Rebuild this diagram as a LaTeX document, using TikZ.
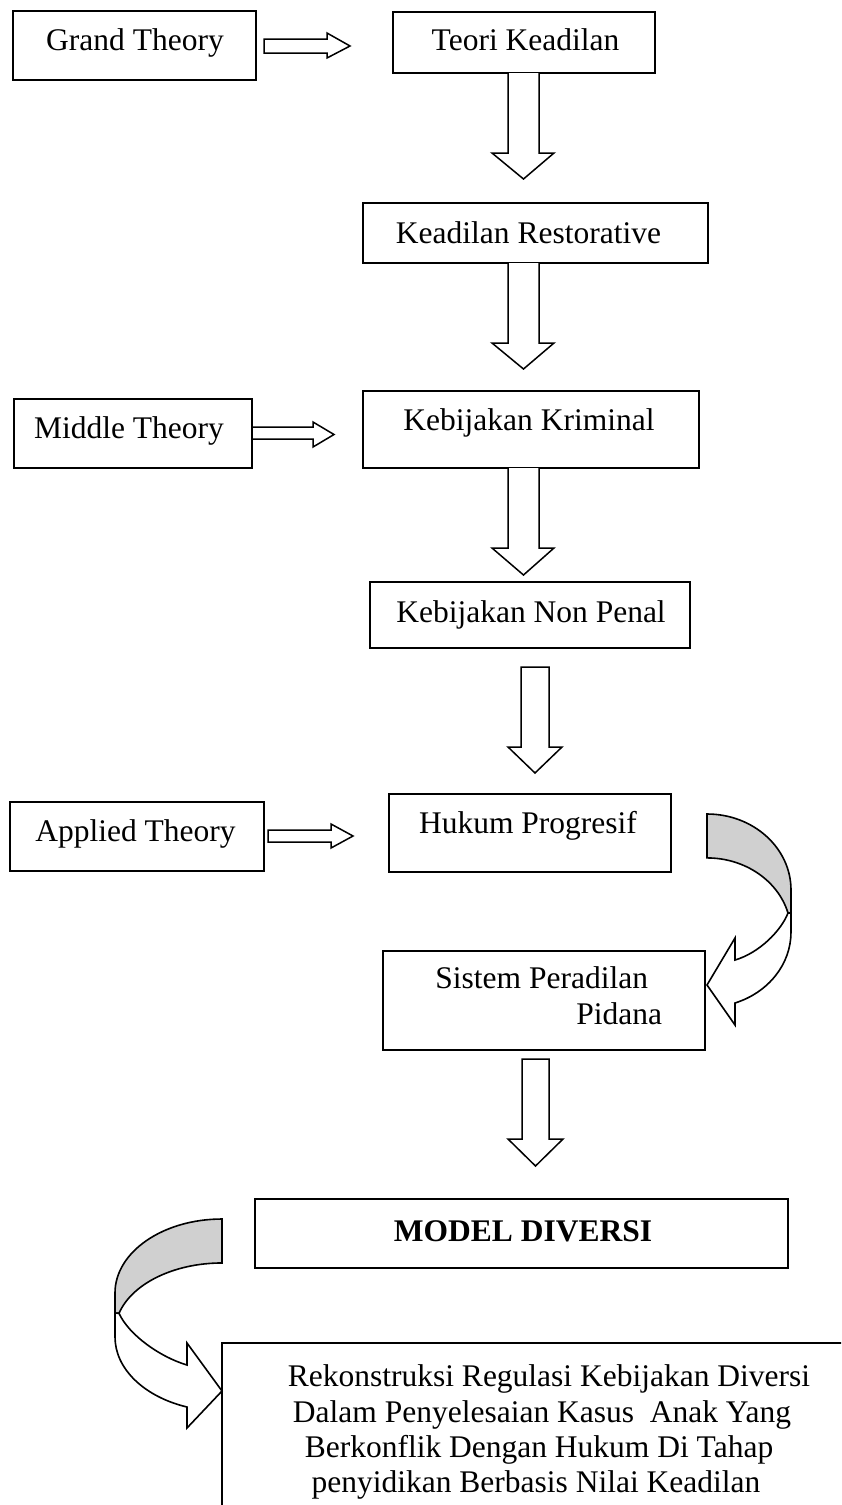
\documentclass[tikz,border=0pt]{standalone}
\usepackage{fontspec}
\setmainfont{Liberation Serif}
\definecolor{shade}{RGB}{208,208,208}
\begin{document}
\begin{tikzpicture}[x=0.5pt,y=-0.5pt,
  box/.style={draw, line width=1pt, inner sep=0pt, rectangle},
  txt/.style={font=\fontsize{15.75}{18}\selectfont, inner sep=0pt},
  blk/.style={draw, line width=0.75pt, fill=white, line join=miter},
  cgray/.style={draw, line width=0.8pt, fill=shade, line join=miter},
  cwhite/.style={draw, line width=0.8pt, fill=white, line join=miter}]
\useasboundingbox (0,0) rectangle (841,1505);
\clip (0,0) rectangle (841,1505);
\fill[white] (0,0) rectangle (841,1505);

% boxes
\node[box, minimum width=121.5pt, minimum height=34.5pt] (gt) at (134.5,45.5) {};
\node[box, minimum width=131pt, minimum height=30.5pt] (tk) at (524,42.5) {};
\node[box, minimum width=172.5pt, minimum height=30pt] (kr) at (535.5,233) {};
\node[box, minimum width=119pt, minimum height=34.5pt] (mt) at (133,433.5) {};
\node[box, minimum width=168pt, minimum height=38.5pt] (kk) at (531,429.5) {};
\node[box, minimum width=160pt, minimum height=33pt] (knp) at (530,615) {};
\node[box, minimum width=127pt, minimum height=34.5pt] (at) at (137,836.5) {};
\node[box, minimum width=141pt, minimum height=39pt] (hp) at (530,833) {};
\node[box, minimum width=161pt, minimum height=49.5pt] (spp) at (544,1000.5) {};
\node[box, minimum width=266.5pt, minimum height=34.5pt] (md) at (521.5,1233.5) {};
\node[box, minimum width=339pt, minimum height=108.5pt] (rk) at (561,1451.5) {};

% texts
\node[txt, anchor=base] (gtt) at (135,50) {Grand Theory};
\node[txt, anchor=base] (tkt) at (525.5,50) {Teori Keadilan};
\node[txt, anchor=base] (krt) at (528.5,243) {Keadilan Restorative};
\node[txt, anchor=base] (mtt) at (129,438) {Middle Theory};
\node[txt, anchor=base] (kkt) at (529,430) {Kebijakan Kriminal};
\node[txt, anchor=base] (knpt) at (531,622) {Kebijakan Non Penal};
\node[txt, anchor=base] (att) at (135.5,841) {Applied Theory};
\node[txt, anchor=base] (hpt) at (528,833) {Hukum Progresif};
\node[txt, anchor=base west] (sppa) at (435,988) {Sistem Peradilan};
\node[txt, anchor=base west] (sppb) at (576,1024) {Pidana};
\node[txt, anchor=base, font=\fontsize{15.75}{18}\selectfont\bfseries] (mdt) at (523,1241) {MODEL DIVERSI};
\node[txt, anchor=base] (rk1) at (549,1386) {Rekonstruksi Regulasi Kebijakan Diversi};
\node[txt, anchor=base] (rk2) at (542,1422) {Dalam Penyelesaian Kasus\ \ Anak Yang};
\node[txt, anchor=base] (rk3) at (539,1457) {Berkonflik Dengan Hukum Di Tahap};
\node[txt, anchor=base] (rk4) at (536,1492) {penyidikan Berbasis Nilai Keadilan};

% horizontal block arrows
\draw[blk] (264,39) -- (327,39) -- (327,33) -- (350,46) -- (327,58) -- (327,53) -- (264,53) -- cycle;
\draw[blk] (252,427) -- (313,427) -- (313,422) -- (334,434.5) -- (313,447) -- (313,439) -- (252,439) -- cycle;
\draw[blk] (268,830) -- (331,830) -- (331,824) -- (353,836) -- (331,848) -- (331,842) -- (268,842) -- cycle;

% vertical block arrows
\draw[blk] (508,73) -- (508,153) -- (492,153) -- (523.5,179) -- (554,153) -- (539,153) -- (539,73);
\draw[blk] (508,263) -- (508,343) -- (492,343) -- (523.5,369) -- (554,343) -- (539,343) -- (539,263);
\draw[blk] (508,468) -- (508,548) -- (492,548) -- (523.5,575) -- (554,548) -- (539,548) -- (539,468);
\draw[blk] (521,667) -- (521,747) -- (508,747) -- (535,773) -- (562,747) -- (549,747) -- (549,667) -- cycle;
\draw[blk] (522,1059) -- (522,1139) -- (508,1139) -- (535.5,1166) -- (563,1139) -- (549,1139) -- (549,1059) -- cycle;

% right curved arrow (Hukum Progresif -> Sistem Peradilan Pidana)
\draw[cgray] (707,814) arc[start angle=270, end angle=360, x radius=84, y radius=76]
  -- (791,913) -- (788,913) arc[start angle=344.6, end angle=270, x radius=84, y radius=75] -- cycle;
\draw[cwhite] (788,913) .. controls (781,931) and (759,953) .. (735,960)
  -- (735,938) -- (707,985) -- (735,1025) -- (735,1003)
  arc[start angle=70.5, end angle=0, x radius=84, y radius=75] -- (791,913) -- cycle;

% left curved arrow (MODEL DIVERSI -> Rekonstruksi)
\draw[cgray] (222,1219) arc[start angle=270, end angle=180, x radius=107, y radius=74]
  -- (115,1313) -- (119,1313.3) arc[start angle=195.7, end angle=270, x radius=107, y radius=69] -- cycle;
\draw[cwhite] (119,1313.3) .. controls (129,1335) and (160,1357) .. (187,1365)
  -- (187,1343) -- (222,1391) -- (187,1428) -- (187,1407)
  arc[start angle=109.1, end angle=180, x radius=107, y radius=74] -- (115,1313) -- cycle;
\end{tikzpicture}
\end{document}
